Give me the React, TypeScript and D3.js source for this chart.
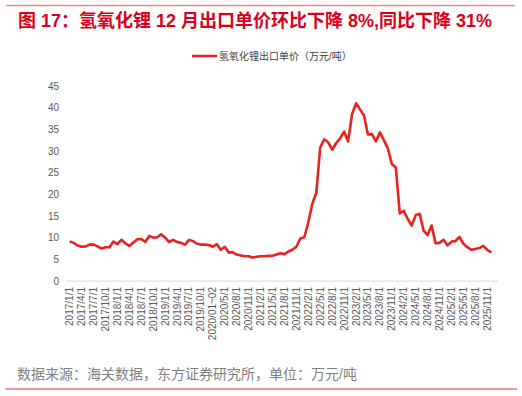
import * as d3 from "d3";

// 氢氧化锂出口单价（万元/吨），2020 年 1-2 月合并
const v2017 = [9.1, 8.8, 8.2, 7.9, 8.0, 8.4, 8.4, 8.0, 7.5, 7.8, 7.8, 9.1];
const v2018 = [8.5, 9.5, 8.7, 8.1, 8.9, 9.6, 9.7, 9.0, 10.4, 10.0, 10.1, 10.8];
const v2019 = [10.0, 9.0, 9.5, 9.0, 8.8, 8.4, 9.5, 9.2, 8.6, 8.4, 8.4, 8.3];
const v2020 = [7.9, 8.5, 7.2, 7.9, 6.6, 6.6, 6.1, 5.9, 5.7, 5.7, 5.4];
const v2021 = [5.6, 5.7, 5.7, 5.8, 5.8, 6.1, 6.4, 6.2, 6.8, 7.2, 7.9, 9.8];
const v2022 = [10.1, 13.5, 17.8, 20.3, 30.8, 32.7, 32.0, 30.3, 31.8, 32.9, 34.5, 32.2];
const v2023 = [38.5, 41.0, 39.6, 38.2, 33.8, 33.9, 32.2, 34.3, 32.5, 30.6, 27.0, 26.2];
const v2024 = [15.6, 16.2, 14.3, 12.8, 15.2, 15.5, 11.6, 10.6, 12.8, 8.7, 8.8, 9.5];
const v2025 = [8.2, 9.1, 9.2, 10.2, 8.6, 7.8, 7.2, 7.4, 7.6, 8.1, 7.2, 6.6];

const values = [...v2017, ...v2018, ...v2019, ...v2020, ...v2021, ...v2022, ...v2023, ...v2024, ...v2025];

// category labels: monthly, Jan+Feb 2020 merged
const categories: string[] = [];
for (let y = 2017; y <= 2025; y++) {
  for (let m = 1; m <= 12; m++) {
    if (y === 2020 && m === 1) { categories.push("2020/01~02"); continue; }
    if (y === 2020 && m === 2) continue;
    categories.push(`${y}/${m}/1`);
  }
}

const yTicks = [0, 5, 10, 15, 20, 25, 30, 35, 40, 45];

const title = "图 17：氢氧化锂 12 月出口单价环比下降 8%,同比下降 31%";
const legendLabel = "氢氧化锂出口单价（万元/吨）";
const source = "数据来源：海关数据，东方证券研究所，单位：万元/吨";

const font = "'Liberation Sans', Arial, 'Noto Sans CJK SC', sans-serif";

export default function App() {
  const width = 522;
  const height = 396;

  const x = d3.scaleBand<string>()
    .domain(categories)
    .range([67.7, 67.7 + categories.length * 3.977]);
  const cx = (c: string) => (x(c) ?? 0) + x.bandwidth() / 2;

  const y = d3.scaleLinear().domain([0, 45]).range([281, 86]);

  const line = d3.line<number>()
    .x((d, i) => cx(categories[i]))
    .y(d => y(d));

  return (
    <svg width={width} height={height} style={{ position: "absolute", left: 0, top: 0, fontFamily: font }}>
      {/* top / bottom rules */}
      <line x1={6} x2={515} y1={5.5} y2={5.5} stroke="#f08a8a" strokeWidth={1.5} />
      <line x1={5} x2={517} y1={389} y2={389} stroke="#e8302e" strokeWidth={1} />

      {/* title */}
      <text x={18} y={26.5} fill="#d9001b" fontSize={18} fontWeight="bold">{title}</text>

      {/* legend */}
      <line x1={192} x2={217} y1={56} y2={56} stroke="#e8221f" strokeWidth={2.5} />
      <text x={219} y={56} dy="0.35em" fontSize={10} fill="#404040">{legendLabel}</text>

      {/* y tick labels */}
      <g fontSize={10} fill="#595959" textAnchor="end">
        {yTicks.map(t => (
          <text key={t} x={59} y={y(t)} dy="0.35em">{t}</text>
        ))}
      </g>

      {/* x axis line */}
      <line x1={67} x2={498} y1={y(0)} y2={y(0)} stroke="#d9d9d9" strokeWidth={1} />

      {/* x tick labels, every 3rd category */}
      <g fontSize={10} fill="#595959" textAnchor="end">
        {categories.map((c, i) => i % 3 === 0 ? (
          <text key={c} transform={`translate(${cx(c)},287) rotate(-90)`} dy="0.35em">{c}</text>
        ) : null)}
      </g>

      {/* series */}
      <path d={line(values) ?? ""} fill="none" stroke="#e8221f" strokeWidth={2.6} strokeLinejoin="round" />

      {/* source */}
      <text x={17} y={378.5} fontSize={14} fill="#808080">{source}</text>
    </svg>
  );
}
